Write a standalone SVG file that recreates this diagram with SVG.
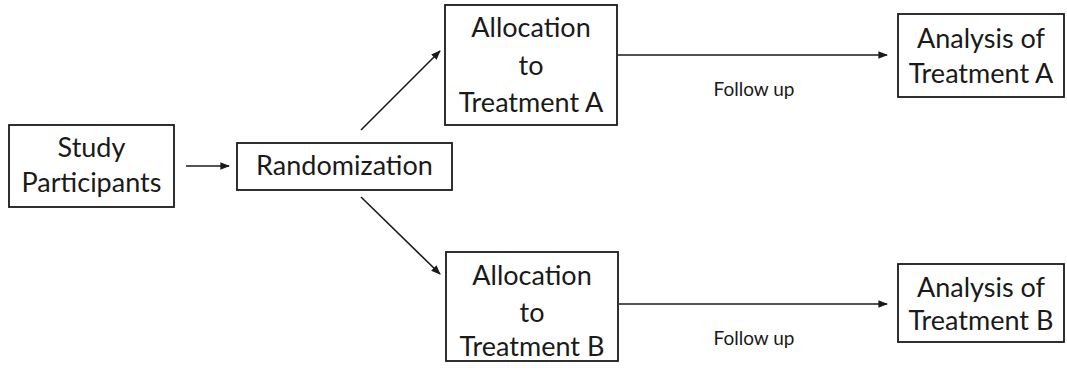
<svg xmlns="http://www.w3.org/2000/svg" width="1067" height="372" viewBox="0 0 1067 372">
  <style>
    .box { fill: #ffffff; stroke: #1a1a1a; stroke-width: 1.8; }
    .lbl { font-family: Lato, "Open Sans", "Liberation Sans", sans-serif; font-size: 27px; fill: #1a1a1a; text-anchor: middle; }
    .small { font-family: Lato, "Open Sans", "Liberation Sans", sans-serif; font-size: 19px; fill: #1a1a1a; text-anchor: middle; }
    .conn { stroke: #1a1a1a; stroke-width: 1.6; fill: none; marker-end: url(#arrow); }
  </style>
  <defs>
    <marker id="arrow" viewBox="0 0 10 10" refX="9" refY="5" markerWidth="6" markerHeight="6" orient="auto" markerUnits="strokeWidth">
      <path d="M0,1 L10,5 L0,9 z" fill="#1a1a1a"/>
    </marker>
  </defs>
  <rect width="1067" height="372" fill="#ffffff"/>

  <g id="connectors">
    <line class="conn" x1="186" y1="166" x2="229" y2="166"/>
    <line class="conn" x1="361" y1="130" x2="440" y2="51"/>
    <line class="conn" x1="361" y1="197" x2="440" y2="274"/>
    <line class="conn" x1="618" y1="55" x2="887" y2="55"/>
    <line class="conn" x1="619" y1="304" x2="887" y2="304"/>
    <text class="small" x="754" y="96">Follow up</text>
    <text class="small" x="754" y="345">Follow up</text>
  </g>

  <g id="study-participants">
    <rect class="box" x="9" y="125" width="165" height="82"/>
    <text class="lbl" x="91.5" y="157">Study</text>
    <text class="lbl" x="91.5" y="192">Participants</text>
  </g>

  <g id="randomization">
    <rect class="box" x="237" y="143" width="215" height="47"/>
    <text class="lbl" x="344.5" y="175">Randomization</text>
  </g>

  <g id="allocation-a">
    <rect class="box" x="445" y="5" width="172" height="120"/>
    <text class="lbl" x="531" y="37">Allocation</text>
    <text class="lbl" x="531" y="75">to</text>
    <text class="lbl" x="531" y="112">Treatment A</text>
  </g>

  <g id="allocation-b">
    <rect class="box" x="446" y="252" width="172" height="109"/>
    <text class="lbl" x="532" y="285">Allocation</text>
    <text class="lbl" x="532" y="322">to</text>
    <text class="lbl" x="532" y="356">Treatment B</text>
  </g>

  <g id="analysis-a">
    <rect class="box" x="898" y="14" width="166" height="83"/>
    <text class="lbl" x="981" y="48">Analysis of</text>
    <text class="lbl" x="981" y="83">Treatment A</text>
  </g>

  <g id="analysis-b">
    <rect class="box" x="898" y="264" width="166" height="78"/>
    <text class="lbl" x="981" y="297">Analysis of</text>
    <text class="lbl" x="981" y="330">Treatment B</text>
  </g>
</svg>
